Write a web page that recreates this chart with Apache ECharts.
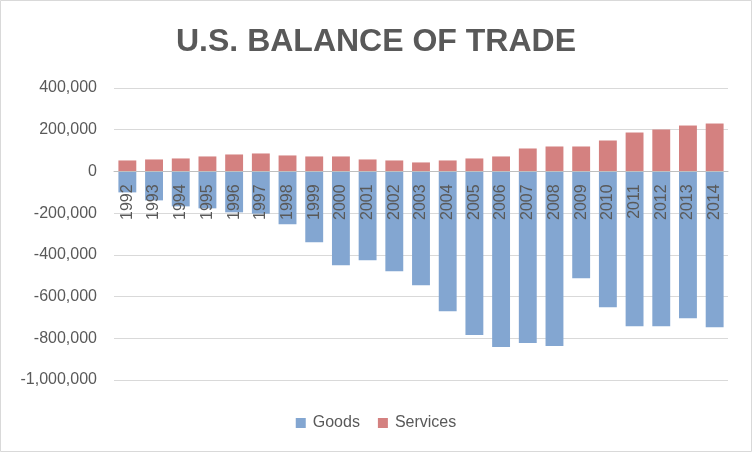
<!DOCTYPE html>
<html>
<head>
<meta charset="utf-8">
<script src="https://cdn.jsdelivr.net/npm/echarts@6/dist/echarts.min.js"></script>
<style>
html,body{margin:0;padding:0;background:#fff;}
#chart{width:752px;height:452px;}
</style>
</head>
<body>
<div id="chart"></div>
<script>
const years = ['1992','1993','1994','1995','1996','1997','1998','1999','2000','2001','2002','2003','2004','2005','2006','2007','2008','2009','2010','2011','2012','2013','2014'];
const goods = [-100500,-138800,-167500,-177000,-196200,-202600,-253600,-339700,-449800,-425900,-478500,-545500,-670000,-784700,-842000,-823000,-837000,-512000,-650800,-741700,-741700,-703400,-746500];
const services = [52600,57400,62200,71800,81300,86100,76600,71800,71800,57400,52600,43100,52600,62200,71800,110000,119600,119600,148300,186600,201000,220100,229700];
const yTicks = {min:-1000000, max:400000, interval:200000};

const gridTop = 88, gridBottom = 72, H = 452;
const plotH = H - gridTop - gridBottom;
const zeroOffset = plotH * (0 - yTicks.min) / (yTicks.max - yTicks.min);

const chart = echarts.init(document.getElementById('chart'), null, {renderer:'canvas'});
const font = 'Liberation Sans, Arial, sans-serif';
chart.setOption({
  animation:false,
  backgroundColor:'#ffffff',
  title:{
    text:'U.S. BALANCE OF TRADE',
    left:'center',
    top:21,
    textStyle:{fontFamily:font,fontSize:32,fontWeight:'bold',color:'#595959'}
  },
  legend:{
    data:['Goods','Services'],
    bottom:16,
    left:'center',
    itemWidth:10,
    itemHeight:10,
    itemGap:18,
    icon:'rect',
    textStyle:{fontFamily:font,fontSize:16,color:'#595959',padding:[0,0,0,2]}
  },
  grid:{left:114,right:24,top:gridTop,bottom:gridBottom,containLabel:false},
  xAxis:{
    type:'category',
    data:years,
    position:'bottom',
    offset:-zeroOffset,
    axisLine:{onZero:false,lineStyle:{color:'#bfbfbf',width:1}},
    axisTick:{show:false},
    axisLabel:{rotate:90,margin:13,fontFamily:font,fontSize:16,color:'#595959'},
    z:10
  },
  yAxis:{
    type:'value',
    min:yTicks.min,max:yTicks.max,interval:yTicks.interval,
    axisLine:{show:false},
    axisTick:{show:false},
    splitLine:{lineStyle:{color:'#d9d9d9',width:1}},
    axisLabel:{margin:17,fontFamily:font,fontSize:16,color:'#595959',
      formatter:v=>v.toLocaleString('en-US')}
  },
  series:[
    {name:'Goods',type:'bar',stack:'total',data:goods,barCategoryGap:'33%',
     itemStyle:{color:'#83a6d1'}},
    {name:'Services',type:'bar',stack:'total',data:services,barCategoryGap:'33%',
     itemStyle:{color:'#d48180'}}
  ],
  graphic:[{type:'rect',shape:{x:0.5,y:0.5,width:751,height:451},
    style:{fill:'none',stroke:'#d9d9d9',lineWidth:1},silent:true}]
});
</script>
</body>
</html>
